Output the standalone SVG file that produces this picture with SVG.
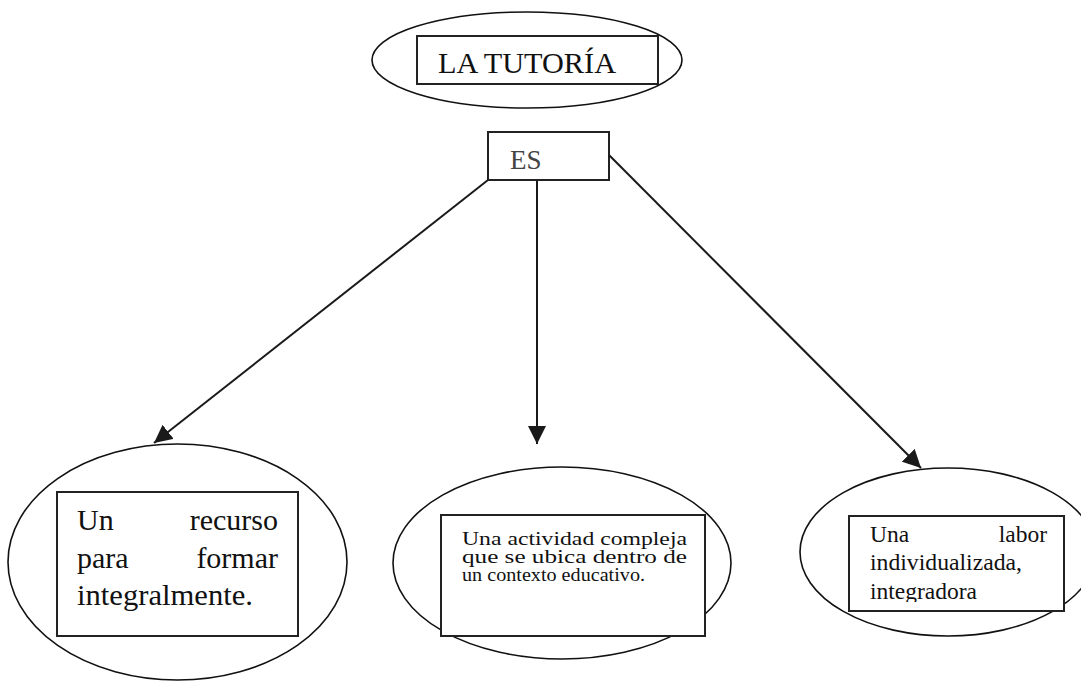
<svg xmlns="http://www.w3.org/2000/svg" width="1081" height="681" viewBox="0 0 1081 681">
<style>
.ell{fill:#fff;stroke:#111;stroke-width:1.6}
.box{fill:#fff;stroke:#222;stroke-width:2}
.t{fill:#111}
.con{stroke:#1a1a1a;stroke-width:2;fill:none}
</style>
<defs>
<marker id="arr" markerUnits="userSpaceOnUse" markerWidth="18" markerHeight="18" viewBox="0 0 16 16" refX="16" refY="8" orient="auto">
<path d="M0,0 L16,8 L0,16 Z" fill="#1a1a1a"/>
</marker>
<clipPath id="clipR"><rect x="849" y="516" width="216" height="86"/></clipPath>
</defs>
<rect width="1081" height="681" fill="#fff"/>

<g id="node-tutoria" font-family="Liberation Serif, Times New Roman, DejaVu Serif, serif">
<ellipse class="ell" cx="527" cy="60" rx="155" ry="48"/>
<rect class="box" x="417" y="36" width="241" height="48"/>
<text class="t" x="438" y="73" font-size="30" textLength="178" lengthAdjust="spacingAndGlyphs">LA TUTORÍA</text>
</g>

<g id="node-es" font-family="Liberation Serif, Times New Roman, DejaVu Serif, serif">
<rect class="box" x="488" y="132" width="121" height="48"/>
<text class="t" x="510" y="169" font-size="27" fill="#444" style="fill:#444">ES</text>
</g>

<g id="connectors">
<line class="con" x1="488" y1="180" x2="154" y2="443" marker-end="url(#arr)"/>
<line class="con" x1="537" y1="180" x2="537" y2="444" marker-end="url(#arr)"/>
<line class="con" x1="609" y1="155" x2="921" y2="468" marker-end="url(#arr)"/>
</g>

<g id="node-recurso" font-family="Liberation Serif, Times New Roman, DejaVu Serif, serif" font-size="30">
<ellipse class="ell" cx="177.5" cy="562" rx="169.5" ry="118"/>
<rect class="box" x="57" y="492" width="241" height="144"/>
<text class="t" x="77" y="530">Un</text>
<text class="t" x="278" y="530" text-anchor="end">recurso</text>
<text class="t" x="77" y="568">para</text>
<text class="t" x="278" y="568" text-anchor="end">formar</text>
<text class="t" x="77" y="605" textLength="176" lengthAdjust="spacingAndGlyphs">integralmente.</text>
</g>

<g id="node-actividad" font-family="Liberation Serif, Times New Roman, DejaVu Serif, serif" font-size="18.5">
<ellipse class="ell" cx="562" cy="563" rx="169" ry="96"/>
<rect class="box" x="441" y="515" width="264" height="121"/>
<text class="t" x="462" y="545" textLength="225" lengthAdjust="spacingAndGlyphs">Una actividad compleja</text>
<text class="t" x="462" y="563" textLength="225" lengthAdjust="spacingAndGlyphs">que se ubica dentro de</text>
<text class="t" x="462" y="581" textLength="183" lengthAdjust="spacingAndGlyphs">un contexto educativo.</text>
</g>

<g id="node-labor" font-family="Liberation Serif, Times New Roman, DejaVu Serif, serif" font-size="23.5">
<ellipse class="ell" cx="948" cy="552" rx="148" ry="84"/>
<rect class="box" x="849" y="516" width="215" height="95"/>
<g clip-path="url(#clipR)">
<text class="t" x="870" y="542">Una</text>
<text class="t" x="1047" y="542" text-anchor="end">labor</text>
<text class="t" x="870" y="570" textLength="152" lengthAdjust="spacingAndGlyphs">individualizada,</text>
<text class="t" x="870" y="599">integradora</text>
</g>
</g>
</svg>
